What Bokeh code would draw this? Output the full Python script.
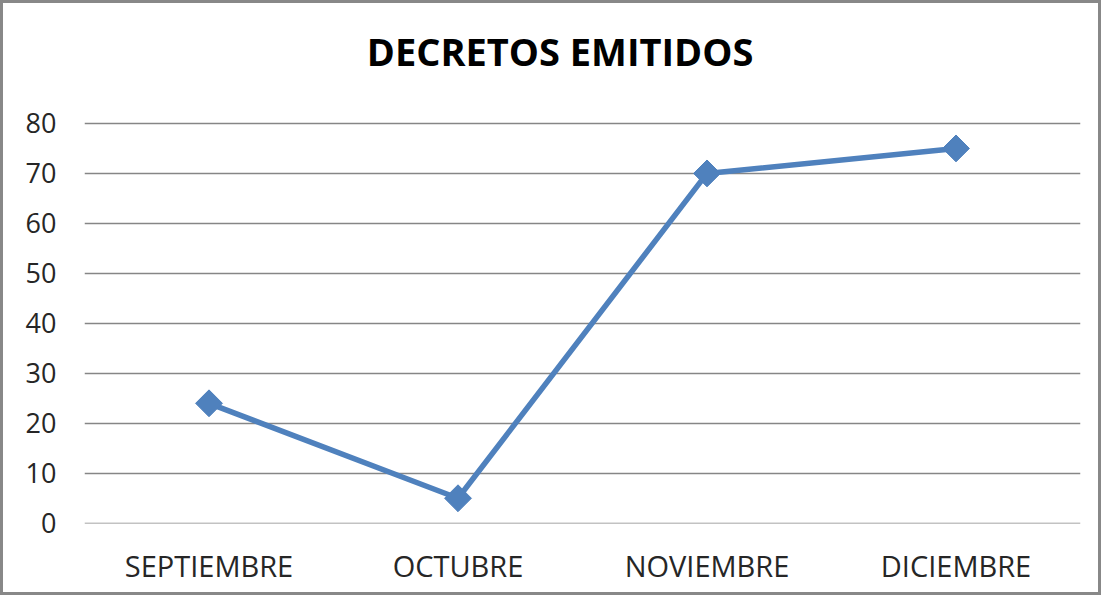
import math
from bokeh.plotting import figure
from bokeh.models import FactorRange, Range1d, FixedTicker, ColumnDataSource
from bokeh.core.properties import value
from bokeh.embed import file_html
from bokeh.resources import INLINE

months = ["SEPTIEMBRE", "OCTUBRE", "NOVIEMBRE", "DICIEMBRE"]
decretos = [24, 5, 70, 75]
y_ticks = [0, 10, 20, 30, 40, 50, 60, 70, 80]
title_text = "DECRETOS EMITIDOS"

src = ColumnDataSource(data=dict(month=months, value=decretos))

# the y range extends above 80 so the chart title can sit inside the plot frame,
# while ticks and grid lines stop at 80
p = figure(
    width=1101, height=595,
    x_range=FactorRange(*months, range_padding=0),
    y_range=Range1d(-0.05, 103.0),
    output_backend="svg", toolbar_location=None,
    min_border_left=81, min_border_right=24, min_border_top=5, min_border_bottom=75,
)
p.styles = {"border": "3px solid #888888"}
p.title.text = ""

p.outline_line_color = None
p.xgrid.grid_line_color = None
p.ygrid.grid_line_color = "#868686"
p.ygrid.grid_line_width = 1.6
p.yaxis.ticker = FixedTicker(ticks=y_ticks)

for ax in (p.xaxis, p.yaxis):
    ax.axis_line_color = None
    ax.major_tick_line_color = None
    ax.minor_tick_line_color = None
    ax.major_label_text_font = "Open Sans"
    ax.major_label_text_color = "#262626"
p.yaxis.major_label_text_font_size = "27px"
p.xaxis.major_label_text_font_size = "29px"
p.yaxis.major_label_standoff = 22
p.xaxis.major_label_standoff = 16

p.text(x=[1.91], y=[94.4], text=[title_text], text_align="center",
       text_baseline="alphabetic", text_font=value("Open Sans"),
       text_font_style="bold", text_font_size="38px", text_color="#000000")

p.line(x="month", y="value", source=src, line_color="#4F81BD", line_width=5.5)
p.scatter(x="month", y="value", source=src, marker="square", angle=math.pi / 4,
          size=19, fill_color="#4F81BD", line_color="#4F81BD")

open("out.html", "w").write(file_html(p, INLINE))
